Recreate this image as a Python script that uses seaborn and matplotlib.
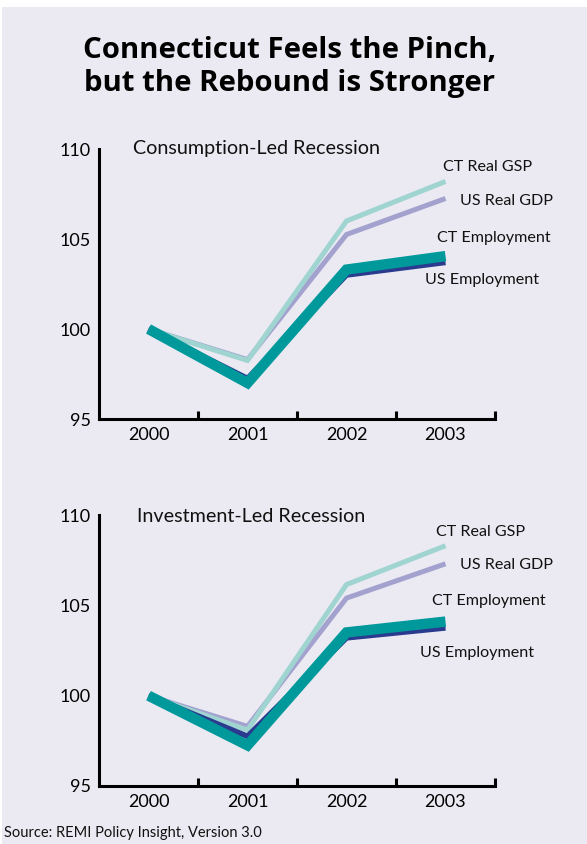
import matplotlib
matplotlib.use("Agg")
import matplotlib.pyplot as plt
from matplotlib.patches import Rectangle
from matplotlib.ticker import FixedLocator, NullFormatter
import seaborn as sns
import pandas as pd

years = ["2000", "2001", "2002", "2003"]
series_names = ["US Real GDP", "CT Real GSP", "US Employment", "CT Employment"]

consumption_us_gdp = [100.0, 98.3, 105.25, 107.25]
consumption_ct_gsp = [100.0, 98.25, 106.0, 108.2]
consumption_us_emp = [100.0, 97.25, 103.0, 103.7]
consumption_ct_emp = [100.0, 97.0, 103.3, 104.05]

investment_us_gdp = [100.0, 98.3, 105.4, 107.3]
investment_ct_gsp = [100.0, 98.1, 106.15, 108.3]
investment_us_emp = [100.0, 97.75, 103.2, 103.75]
investment_ct_emp = [100.0, 97.25, 103.5, 104.1]

y_ticks = [95, 100, 105, 110]

colors = {
    "US Real GDP": "#a3a2cf",
    "CT Real GSP": "#9fd4d1",
    "US Employment": "#2a3a8f",
    "CT Employment": "#00999b",
}
widths = {
    "US Real GDP": 3.6,
    "CT Real GSP": 3.6,
    "US Employment": 4.0,
    "CT Employment": 7.5,
}

BG = "#ebeaf2"
FONT = ["Lato", "DejaVu Sans"]
TITLE_FONT = ["Open Sans", "DejaVu Sans"]

sns.set_theme(style="white")
plt.rcParams["font.family"] = FONT


def build_frame(values):
    rows = []
    for name, vals in zip(series_names, values):
        for i, (yr, v) in enumerate(zip(years, vals)):
            rows.append({"series": name, "year": yr, "pos": i + 0.5, "value": v})
    return pd.DataFrame(rows)


fig = plt.figure(figsize=(5.87, 8.44), dpi=100)
fig.patch.set_facecolor("white")
fig.patches.append(Rectangle((0.004, 0), 0.996, 1 - 7 / 844, transform=fig.transFigure,
                             facecolor=BG, edgecolor="none", zorder=-10))

panels = [
    {
        "rect": [99 / 587, 1 - 419 / 844, (495 - 99) / 587, (419 - 149) / 844],
        "title": "Consumption-Led Recession",
        "title_xy": (0.343, 110.05),
        "values": [consumption_us_gdp, consumption_ct_gsp, consumption_us_emp, consumption_ct_emp],
        "labels": {
            "CT Real GSP": (3.475, 109.0),
            "US Real GDP": (3.646, 107.1),
            "CT Employment": (3.414, 105.06),
            "US Employment": (3.293, 102.7),
        },
    },
    {
        "rect": [99 / 587, 1 - 786 / 844, (495 - 99) / 587, (786 - 515) / 844],
        "title": "Investment-Led Recession",
        "title_xy": (0.384, 109.9),
        "values": [investment_us_gdp, investment_ct_gsp, investment_us_emp, investment_ct_emp],
        "labels": {
            "CT Real GSP": (3.40, 109.06),
            "US Real GDP": (3.646, 107.23),
            "CT Employment": (3.36, 105.24),
            "US Employment": (3.24, 102.36),
        },
    },
]

for panel in panels:
    ax = fig.add_axes(panel["rect"])
    ax.set_facecolor("none")
    df = build_frame(panel["values"])
    for name in series_names:
        sub = df[df["series"] == name]
        sns.lineplot(data=sub, x="pos", y="value", ax=ax, color=colors[name],
                     linewidth=widths[name], solid_capstyle="butt",
                     solid_joinstyle="miter", legend=False, clip_on=False)
    ax.set_xlim(0, 4)
    ax.set_ylim(95, 110)
    ax.set_xlabel("")
    ax.set_ylabel("")

    ax.xaxis.set_major_locator(FixedLocator([i + 0.5 for i in range(len(years))]))
    ax.set_xticklabels(years)
    ax.xaxis.set_minor_locator(FixedLocator([1, 2, 3, 4]))
    ax.xaxis.set_minor_formatter(NullFormatter())
    ax.tick_params(axis="x", which="major", length=0, pad=6, labelsize=13, colors="black")
    ax.tick_params(axis="x", which="minor", direction="in", length=6, width=2.2,
                   color="black", bottom=True)

    ax.set_yticks(y_ticks)
    ax.set_yticklabels([str(t) for t in y_ticks])
    ax.tick_params(axis="y", direction="in", length=8, width=2.2, pad=6,
                   labelsize=13, colors="black")

    for side in ["top", "right"]:
        ax.spines[side].set_visible(False)
    for side in ["left", "bottom"]:
        ax.spines[side].set_color("black")
        ax.spines[side].set_linewidth(2.2)

    ax.text(*panel["title_xy"], panel["title"], fontsize=14.2, ha="left", va="center",
            color="#111111")
    for name, (lx, ly) in panel["labels"].items():
        ax.text(lx, ly, name, fontsize=11.6, ha="left", va="center", color="#111111",
                clip_on=False)

fig.text(0.494, 1 - 51 / 844, "Connecticut Feels the Pinch,", ha="center", va="center",
         fontsize=21.2, fontweight="bold", color="black", family=TITLE_FONT)
fig.text(0.494, 1 - 83 / 844, "but the Rebound is Stronger", ha="center", va="center",
         fontsize=21.2, fontweight="bold", color="black", family=TITLE_FONT)
fig.text(4 / 587, 1 - 833 / 844, "Source: REMI Policy Insight, Version 3.0", ha="left",
         va="center", fontsize=10.5, color="#111111")

fig.savefig("out.png", dpi=100, facecolor=fig.get_facecolor())
